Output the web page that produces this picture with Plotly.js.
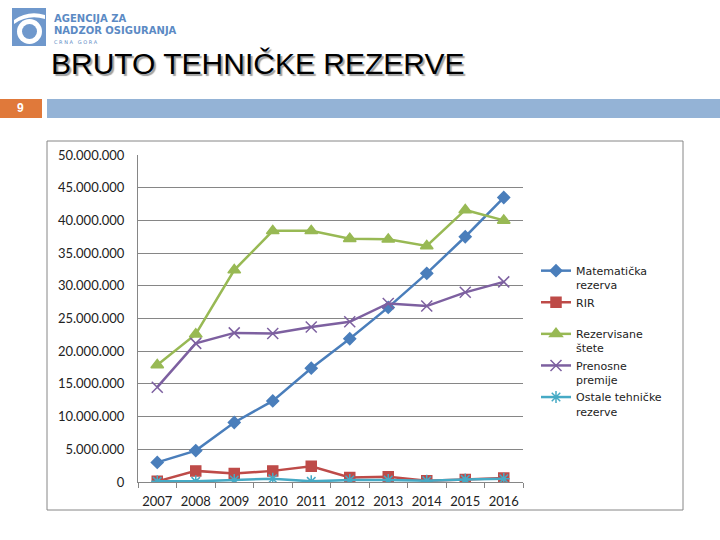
<!DOCTYPE html>
<html>
<head>
<meta charset="utf-8">
<script src="https://cdn.plot.ly/plotly-3.0.1.min.js"></script>
<style>html,body{margin:0;padding:0;background:#fff;}#chart{width:720px;height:540px;}</style>
</head>
<body>
<div id="chart"></div>
<script>
const years = [2007, 2008, 2009, 2010, 2011, 2012, 2013, 2014, 2015, 2016];
const seriesNames = ["Matematička<br>rezerva", "RIR<br> ", "Rezervisane<br>štete", "Prenosne<br>premije", "Ostale tehničke<br>rezerve"];
const matematicka = [3.0e6, 4.8e6, 9.1e6, 12.4e6, 17.4e6, 21.9e6, 26.7e6, 31.9e6, 37.5e6, 43.5e6];
const rir = [0.1e6, 1.7e6, 1.3e6, 1.7e6, 2.4e6, 0.7e6, 0.8e6, 0.2e6, 0.4e6, 0.6e6];
const rezervisane = [17.9e6, 22.6e6, 32.4e6, 38.4e6, 38.4e6, 37.2e6, 37.1e6, 36.1e6, 41.6e6, 40.0e6];
const prenosne = [14.5e6, 21.2e6, 22.8e6, 22.7e6, 23.7e6, 24.5e6, 27.3e6, 26.9e6, 29.0e6, 30.6e6];
const ostale = [0.1e6, 0.1e6, 0.3e6, 0.5e6, 0.1e6, 0.3e6, 0.3e6, 0.2e6, 0.4e6, 0.5e6];
const yTicks = [0, 5e6, 10e6, 15e6, 20e6, 25e6, 30e6, 35e6, 40e6, 45e6, 50e6];

// plot area in page pixels
const L = 138, R = 523, T = 155, B = 482;
const W = R - L, H = B - T;
const px = x => (x - L) / W;
const py = y => (B - y) / H;

const colors = ["#4a7ebb", "#be4b48", "#98b954", "#7d60a0", "#46aac5"];
const symbols = ["diamond", "square", "triangle-up", "x-thin-open", "asterisk-open"];
const sizes = [9, 10, 11, 11, 10];
const data = [matematicka, rir, rezervisane, prenosne, ostale].map((vals, i) => ({
  type: "scatter", mode: "lines+markers", x: years, y: vals, name: seriesNames[i],
  line: {color: colors[i], width: 2.5},
  marker: {symbol: symbols[i], size: sizes[i], color: colors[i], line: {color: colors[i], width: 1.5}}
}));

const shapes = [
  // chart frame
  {type: "rect", xref: "paper", yref: "paper", x0: px(47), x1: px(683), y0: py(510), y1: py(141), line: {color: "#868686", width: 1}, fillcolor: "#ffffff", layer: "below"},
  // orange page box
  {type: "rect", xref: "paper", yref: "paper", x0: px(0), x1: px(42), y0: py(118), y1: py(99), line: {width: 0}, fillcolor: "#e0793a", layer: "below"},
  // blue bar
  {type: "rect", xref: "paper", yref: "paper", x0: px(47), x1: px(720), y0: py(118), y1: py(99), line: {width: 0}, fillcolor: "#94b3d6", layer: "below"},
  // logo
  {type: "rect", xref: "paper", yref: "paper", x0: px(12), x1: px(46), y0: py(46), y1: py(8), line: {width: 0}, fillcolor: "#6f98cc", layer: "below"},
  {type: "circle", xref: "paper", yref: "paper", x0: px(17), x1: px(42), y0: py(44), y1: py(19), line: {width: 0}, fillcolor: "#ffffff", layer: "below"},
  {type: "circle", xref: "paper", yref: "paper", x0: px(22), x1: px(37), y0: py(39), y1: py(24), line: {width: 0}, fillcolor: "#6f98cc", layer: "below"},
  {type: "path", xref: "paper", yref: "paper", path: `M ${px(14)} ${py(20)} Q ${px(28)} ${py(10)} ${px(45)} ${py(15)} L ${px(45)} ${py(19)} Q ${px(28)} ${py(14)} ${px(14)} ${py(24)} Z`, line: {width: 0}, fillcolor: "#ffffff", layer: "below"}
];

const ann = (text, x, y, opts) => Object.assign({text: text, xref: "paper", yref: "paper", x: px(x), y: py(y), xanchor: "left", yanchor: "middle", showarrow: false}, opts);
const annotations = [
  ann("<b>AGENCIJA ZA</b>", 52, 18, {font: {family: "DejaVu Sans", size: 10, color: "#5b8ac4"}}),
  ann("<b>NADZOR OSIGURANJA</b>", 52, 31, {font: {family: "DejaVu Sans", size: 10, color: "#5b8ac4"}}),
  ann("C R N A   G O R A", 52, 42, {font: {family: "DejaVu Sans", size: 5, color: "#5b8ac4"}}),
  ann("BRUTO TEHNIČKE REZERVE", 49, 64, {font: {family: "Liberation Sans", size: 30, color: "#000000", shadow: "2px 2px 1px #a0a0a0"}}),
  ann("<b>9</b>", 20, 108, {xanchor: "center", font: {family: "Liberation Sans", size: 12, color: "#ffffff"}})
];

const layout = {
  width: 720, height: 540,
  margin: {l: L, r: 720 - R, t: T, b: 540 - B, pad: 0},
  paper_bgcolor: "#ffffff", plot_bgcolor: "rgba(0,0,0,0)",
  separators: ",.",
  showlegend: true,
  font: {family: "Lato", size: 13, color: "#222222"},
  xaxis: {
    range: [2006.5, 2016.5], tickvals: years, ticktext: years.map(String),
    showgrid: false, zeroline: false, showline: true, linecolor: "#868686", linewidth: 1,
    ticks: "", ticklabelstandoff: 7, tickfont: {family: "Lato", size: 13, color: "#222"},
    minor: {tick0: 2006.5, dtick: 1, ticks: "outside", ticklen: 5, tickcolor: "#868686", showgrid: false},
    fixedrange: true
  },
  yaxis: {
    range: [0, 50e6], tickvals: yTicks, tickformat: ",d",
    showgrid: true, gridcolor: "#868686", gridwidth: 1, zeroline: false,
    showline: true, linecolor: "#868686", linewidth: 1,
    ticks: "", ticklabelstandoff: 10, tickfont: {family: "Lato", size: 13, color: "#222"},
    fixedrange: true
  },
  legend: {
    x: px(536), y: py(257), xanchor: "left", yanchor: "top",
    font: {family: "DejaVu Sans", size: 11, color: "#222"}, valign: "top",
    bgcolor: "rgba(0,0,0,0)", tracegroupgap: 0, itemwidth: 30
  },
  shapes: shapes,
  annotations: annotations
};

Plotly.newPlot("chart", data, layout, {displayModeBar: false, staticPlot: true});
</script>
</body>
</html>
